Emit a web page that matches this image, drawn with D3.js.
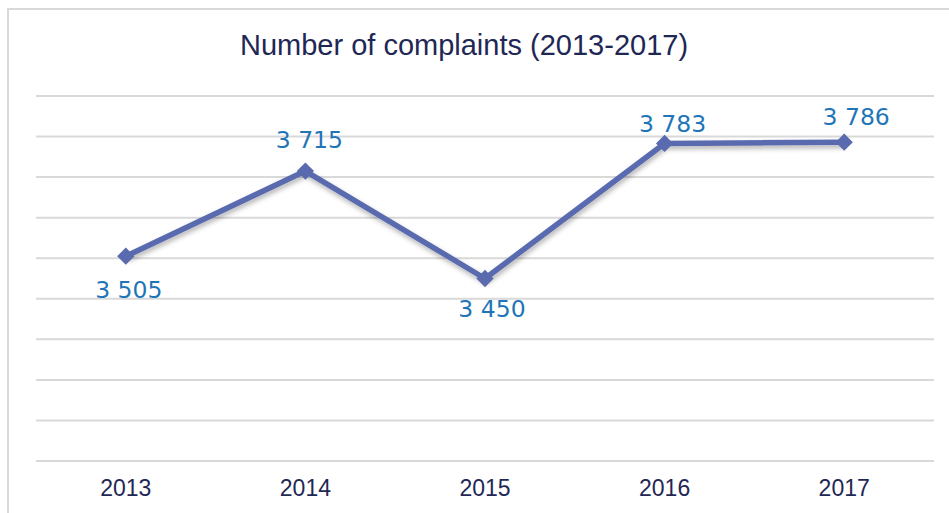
<!DOCTYPE html>
<html>
<head>
<meta charset="utf-8">
<script src="https://cdn.jsdelivr.net/npm/d3@7"></script>
<style>
    body { margin: 0; background: #fff; }
    svg { display: block; }
</style>
</head>
<body>
<div id="chart"></div>
<script>
// chart data
var years = ["2013", "2014", "2015", "2016", "2017"];
var complaints = [3505, 3715, 3450, 3783, 3786];
var gridValues = [3000, 3100, 3200, 3300, 3400, 3500, 3600, 3700, 3800, 3900];

// label placement relative to each point (pixels)
var labelDx = [3, 4, 7, 8, 12];
var labelDy = [42, -23, 38, -11, -17];

var width = 949, height = 513;
var plotLeft = 36, plotRight = 934, plotTop = 96, plotBottom = 461;

var svg = d3.select("#chart").append("svg")
    .attr("width", width)
    .attr("height", height);

var defs = svg.append("defs");
var shadow = defs.append("filter")
    .attr("id", "shadow")
    .attr("x", "-10%").attr("y", "-20%")
    .attr("width", "120%").attr("height", "160%");
shadow.append("feDropShadow")
    .attr("dx", 1).attr("dy", 3)
    .attr("stdDeviation", 2.5)
    .attr("flood-color", "#000")
    .attr("flood-opacity", 0.3);

// outer frame
svg.append("rect")
    .attr("x", 8).attr("y", 9)
    .attr("width", width + 20).attr("height", height + 20)
    .attr("fill", "none")
    .attr("stroke", "#d9d9d9")
    .attr("stroke-width", 2);

var xScale = d3.scaleBand()
    .domain(years)
    .range([plotLeft, plotRight]);

var yScale = d3.scaleLinear()
    .domain([3000, 3900])
    .range([plotBottom, plotTop]);

function xCenter(d) {
    return xScale(d) + xScale.bandwidth() / 2;
}

// gridlines
svg.append("g")
    .attr("class", "grid")
    .selectAll("line")
    .data(gridValues)
    .enter()
    .append("line")
    .attr("x1", plotLeft)
    .attr("x2", plotRight)
    .attr("y1", function (d) { return yScale(d); })
    .attr("y2", function (d) { return yScale(d); })
    .attr("stroke", "#d9d9d9")
    .attr("stroke-width", 2);

// title
svg.append("text")
    .attr("x", 464)
    .attr("y", 55)
    .attr("text-anchor", "middle")
    .style("font-family", "'Liberation Sans', Arial, sans-serif")
    .style("font-size", "29px")
    .attr("fill", "#1f2755")
    .text("Number of complaints (2013-2017)");

// x axis
var xAxis = svg.append("g")
    .attr("class", "x axis")
    .attr("transform", "translate(0," + plotBottom + ")")
    .call(d3.axisBottom(xScale).tickSize(0).tickPadding(19));
xAxis.select(".domain").remove();
xAxis.selectAll("text")
    .style("font-family", "'Liberation Sans', Arial, sans-serif")
    .style("font-size", "23px")
    .attr("fill", "#1f2755");

var data = years.map(function (y, i) {
    return { label: y, value: complaints[i], dx: labelDx[i], dy: labelDy[i] };
});

// line
svg.append("path")
    .datum(data)
    .attr("d", d3.line()
        .x(function (d) { return xCenter(d.label); })
        .y(function (d) { return yScale(d.value); }))
    .attr("fill", "none")
    .attr("stroke", "#5a6aae")
    .attr("stroke-width", 5.5)
    .attr("stroke-linejoin", "round")
    .attr("filter", "url(#shadow)");

// diamond markers
svg.selectAll(".marker")
    .data(data)
    .enter()
    .append("path")
    .attr("class", "marker")
    .attr("d", d3.symbol().type(d3.symbolDiamond2).size(190))
    .attr("transform", function (d) {
        return "translate(" + xCenter(d.label) + "," + yScale(d.value) + ")";
    })
    .attr("fill", "#5a6aae");

// data labels
svg.selectAll(".value-label")
    .data(data)
    .enter()
    .append("text")
    .attr("class", "value-label")
    .attr("x", function (d) { return xCenter(d.label) + d.dx; })
    .attr("y", function (d) { return yScale(d.value) + d.dy; })
    .attr("text-anchor", "middle")
    .style("font-family", "'DejaVu Sans', Verdana, sans-serif")
    .style("font-size", "23.5px")
    .attr("fill", "#1f75b8")
    .text(function (d) {
        return d3.format(",")(d.value).replace(",", " ");
    });
</script>
</body>
</html>
